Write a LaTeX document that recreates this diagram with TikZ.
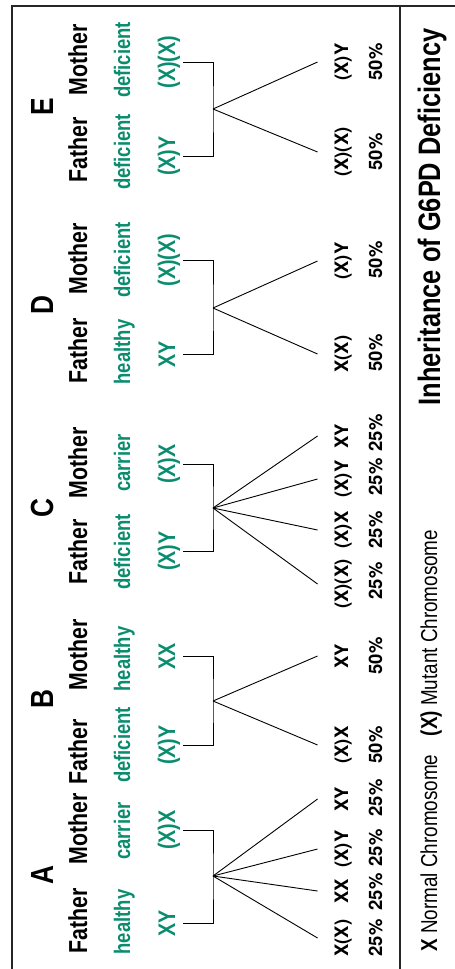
\documentclass[tikz,border=0pt]{standalone}
\usepackage{fontspec}
\setmainfont[FakeStretch=0.82]{Liberation Sans}
\newfontfamily\widefont{TeX Gyre Heros}
\usepackage{tikz}
\definecolor{genegreen}{RGB}{10,140,110}

\begin{document}
\begin{tikzpicture}[x=1pt, y=-1pt, line width=0.9pt,
		letter/.style={rotate=90, anchor=base, font=\fontsize{32}{36}\selectfont\bfseries},
		parent/.style={rotate=90, anchor=base, font=\fontsize{26}{30}\selectfont\bfseries},
		status/.style={rotate=90, anchor=base, text=genegreen, font=\fontsize{22.5}{26}\selectfont\bfseries},
		geno/.style={rotate=90, anchor=base, text=genegreen, text depth=0pt, inner ysep=8pt, font=\fontsize{24}{28}\selectfont\bfseries},
		child/.style={rotate=90, anchor=base, text height=13.3pt, text depth=0pt, inner ysep=16.7pt, font=\widefont\fontsize{18.5}{22}\selectfont\bfseries},
		prob/.style={rotate=90, anchor=base, font=\widefont\fontsize{18.5}{22}\selectfont\bfseries},
		key/.style={rotate=90, anchor=base, font=\fontsize{23}{26}\selectfont},
		title/.style={rotate=90, anchor=base, font=\fontsize{31}{36}\selectfont\bfseries}]
		\useasboundingbox (0,0) rectangle (455,969);
		\draw[black!85, line width=1.3pt] (12,6) rectangle (480,1000);
		\draw[black!85, line width=1.3pt] (400,6) -- (400,1000);

		% A
		\node[letter] (a) at (53,875) {A};
		\node[parent] (a1) at (87,921) {Father};
		\node[parent] (a2) at (87,829) {Mother};
		\node[status] (a3) at (130,922) {healthy};
		\node[status] (a4) at (130,831) {carrier};
		\node[geno] (a5) at (175,923) {XY};
		\node[geno] (a6) at (175,830) {(X)X};
		\coordinate (ja) at (213,876);
		\node[child] (a7) at (348,938) {X(X)};
		\node[child] (a8) at (348,891) {XX};
		\node[child] (a9) at (348,849) {(X)Y};
		\node[child] (a10) at (348,799) {XY};
		\node[prob] (a11) at (382,938) {25\%};
		\node[prob] (a12) at (382,892) {25\%};
		\node[prob] (a13) at (382,848) {25\%};
		\node[prob] (a14) at (382,798) {25\%};
		% B
		\node[letter] (b) at (53,699) {B};
		\node[parent] (b1) at (87,752) {Father};
		\node[parent] (b2) at (87,655) {Mother};
		\node[status] (b3) at (130,745) {deficient};
		\node[status] (b4) at (130,659) {healthy};
		\node[geno] (b5) at (175,745) {(X)Y};
		\node[geno] (b6) at (175,656) {XX};
		\coordinate (jb) at (213,701);
		\node[child] (b7) at (348,745) {(X)X};
		\node[child] (b8) at (348,656) {XY};
		\node[prob] (b9) at (382,745) {50\%};
		\node[prob] (b10) at (382,656) {50\%};
		% C
		\node[letter] (c) at (53,508) {C};
		\node[parent] (c1) at (87,552) {Father};
		\node[parent] (c2) at (87,463) {Mother};
		\node[status] (c3) at (130,552) {deficient};
		\node[status] (c4) at (130,463) {carrier};
		\node[geno] (c5) at (175,551) {(X)Y};
		\node[geno] (c6) at (175,464) {(X)X};
		\coordinate (jc) at (213,508);
		\node[child] (c7) at (348,584) {(X)(X)};
		\node[child] (c8) at (348,530) {(X)X};
		\node[child] (c9) at (348,479) {(X)Y};
		\node[child] (c10) at (348,436) {XY};
		\node[prob] (c11) at (382,581) {25\%};
		\node[prob] (c12) at (382,530) {25\%};
		\node[prob] (c13) at (382,477) {25\%};
		\node[prob] (c14) at (382,433) {25\%};
		% D
		\node[letter] (d) at (53,305) {D};
		\node[parent] (d1) at (87,351) {Father};
		\node[parent] (d2) at (87,259) {Mother};
		\node[status] (d3) at (130,352) {healthy};
		\node[status] (d4) at (130,260) {deficient};
		\node[geno] (d5) at (175,354) {XY};
		\node[geno] (d6) at (175,260) {(X)(X)};
		\coordinate (jd) at (213,308);
		\node[child] (d7) at (348,354) {X(X)};
		\node[child] (d8) at (348,261) {(X)Y};
		\node[prob] (d9) at (382,353) {50\%};
		\node[prob] (d10) at (382,260) {50\%};
		% E
		\node[letter] (e) at (53,107) {E};
		\node[parent] (e1) at (87,150) {Father};
		\node[parent] (e2) at (87,60) {Mother};
		\node[status] (e3) at (130,152) {deficient};
		\node[status] (e4) at (130,60) {deficient};
		\node[geno] (e5) at (175,156) {(X)Y};
		\node[geno] (e6) at (175,62) {(X)(X)};
		\coordinate (je) at (213,109);
		\node[child] (e7) at (348,152) {(X)(X)};
		\node[child] (e8) at (348,62) {(X)Y};
		\node[prob] (e9) at (382,152) {50\%};
		\node[prob] (e10) at (382,62) {50\%};

		\node[key] (k1) at (437,853) {\textbf{X} Normal Chromosome};
		\node[key] (k2) at (437,633) {\textbf{(X)} Mutant Chromosome};
		\node[title] (t) at (440,217) {Inheritance of G6PD Deficiency};

		\draw (a5.south) -| (ja) |- (a6.south);
		\draw (b5.south) -| (jb) |- (b6.south);
		\draw (c5.south) -| (jc) |- (c6.south);
		\draw (d5.south) -| (jd) |- (d6.south);
		\draw (e5.south) -| (je) |- (e6.south);
		\path (ja) edge (a7.north);
		\path (ja) edge (a8.north);
		\path (ja) edge (a9.north);
		\path (ja) edge (a10.north);
		\path (jb) edge (b7.north);
		\path (jb) edge (b8.north);
		\path (jc) edge (c7.north);
		\path (jc) edge (c8.north);
		\path (jc) edge (c9.north);
		\path (jc) edge (c10.north);
		\path (jd) edge (d7.north);
		\path (jd) edge (d8.north);
		\path (je) edge (e7.north);
		\path (je) edge (e8.north);
	\end{tikzpicture}
\end{document}
